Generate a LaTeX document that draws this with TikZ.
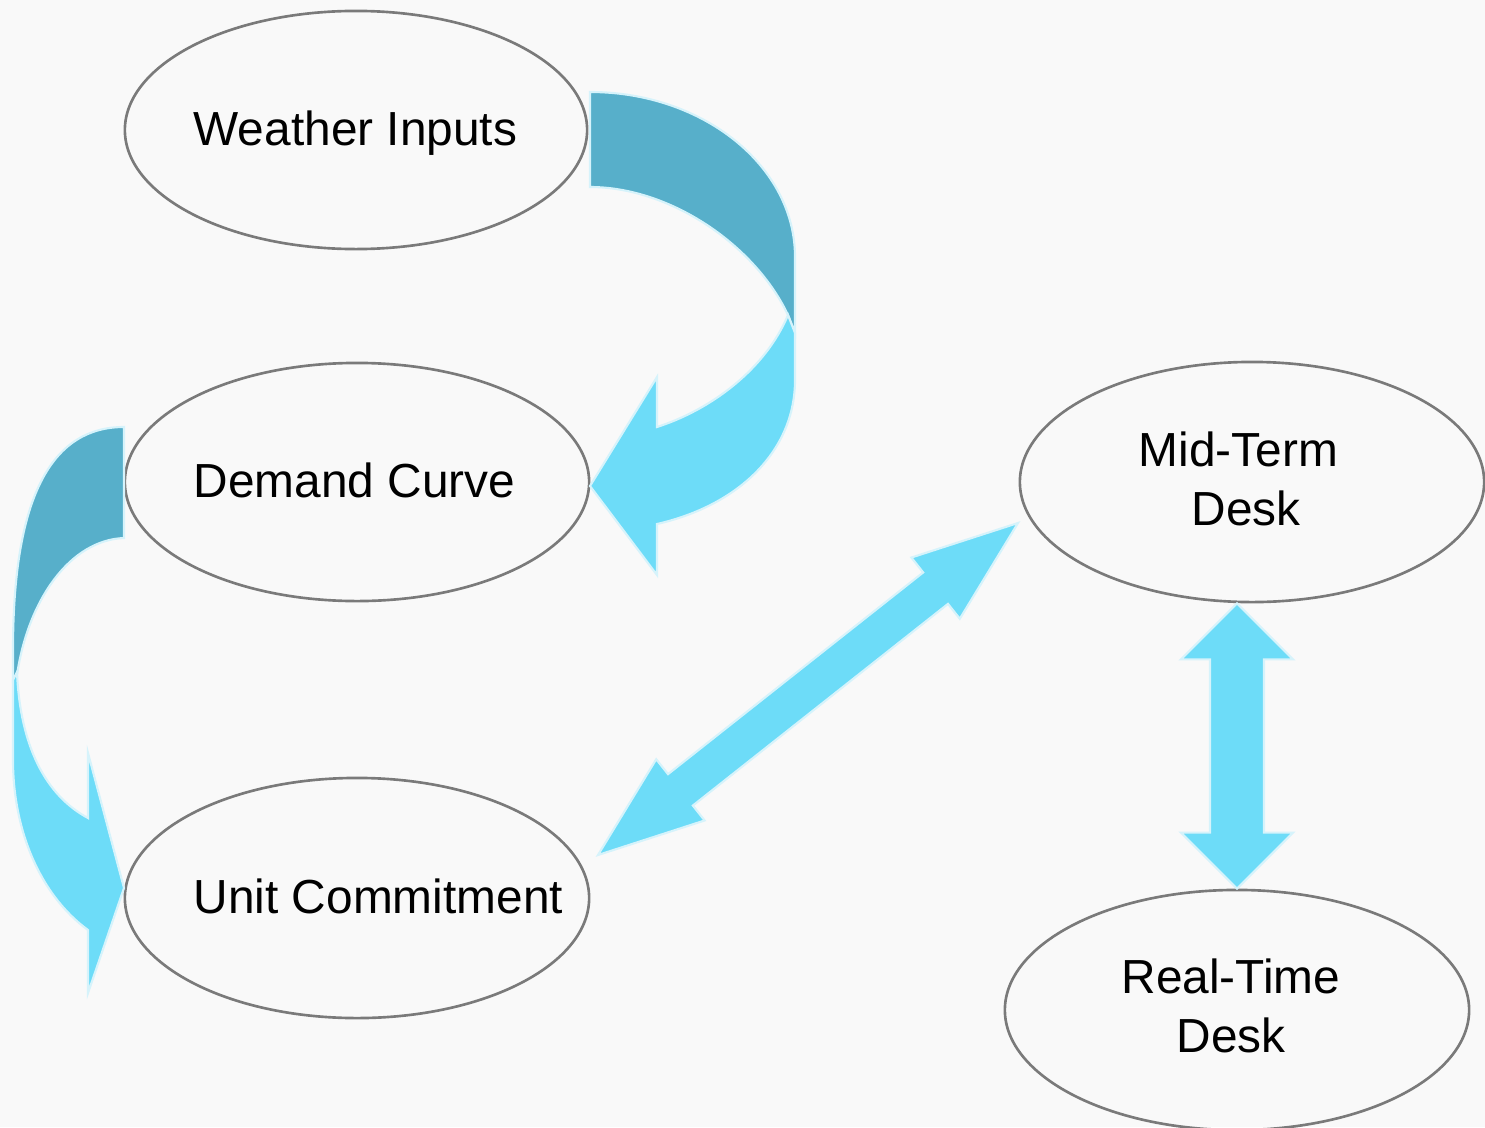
\documentclass[tikz,border=0pt]{standalone}
\usepackage{fontspec}
\setmainfont{Liberation Sans}
\usetikzlibrary{calc}
\usetikzlibrary{shapes.geometric}

\definecolor{bgcol}{HTML}{F9F9F9}
\definecolor{ringcol}{HTML}{7A7A7A}
\definecolor{darkflow}{HTML}{57AFCA}
\definecolor{lightflow}{HTML}{6DDCF8}
\definecolor{flowedge}{HTML}{D6F3FB}

% block arrow with a head at both ends: ends, head length, half head, half shaft
\newcommand{\dblflow}[5]{%
  \filldraw[flowlight] (#1)
    -- ($(#1)!#3!(#2)!#4!90:(#2)$)
    -- ($(#1)!#3!(#2)!#5!90:(#2)$)
    -- ($(#2)!#3!(#1)!#5!-90:(#1)$)
    -- ($(#2)!#3!(#1)!#4!-90:(#1)$)
    -- (#2)
    -- ($(#2)!#3!(#1)!#4!90:(#1)$)
    -- ($(#2)!#3!(#1)!#5!90:(#1)$)
    -- ($(#1)!#3!(#2)!#5!-90:(#2)$)
    -- ($(#1)!#3!(#2)!#4!-90:(#2)$)
    -- cycle;}

\begin{document}
\begin{tikzpicture}[x=0.01cm, y=-0.01cm,
    bubble/.style={ellipse, draw=ringcol, line width=0.75pt,
      minimum width=4.64cm, minimum height=2.4cm, inner sep=0pt},
    bubbletext/.style={inner sep=0pt, font=\fontsize{13.6}{16.8}\selectfont},
    flowdark/.style={fill=darkflow, draw=flowedge, line width=0.6pt},
    flowlight/.style={fill=lightflow, draw=flowedge, line width=0.6pt}]
  \fill[bgcol] (0,0) rectangle (1485,1127);
  \useasboundingbox (0,0) rectangle (1485,1127);

  \node[bubble, minimum width=4.62cm, minimum height=2.38cm] (wx) at (356,130) {};
  \node[bubble, minimum height=2.38cm] (dc) at (357,482) {};
  \node[bubble] (uc) at (357,898) {};
  \node[bubble] (mt) at (1252,482) {};
  \node[bubble] (rt) at (1237,1010) {};

  \node[bubbletext, anchor=base west] (wxt) at ([shift={(-163,15)}]wx.center) {Weather Inputs};
  \node[bubbletext, anchor=base west] (dct) at ([shift={(-164,15)}]dc.center) {Demand Curve};
  \node[bubbletext, anchor=base west] (uct) at ([shift={(-164,15)}]uc.center) {Unit Commitment};
  \node[bubbletext, align=center] (mtt) at ([shift={(-6,-3)}]mt.center) {Mid-Term\hspace*{0.15cm}\\Desk};
  \node[bubbletext, align=center] (rtt) at ([shift={(-6,-4)}]rt.center) {Real-Time\\Desk};

  % weather -> demand
  \filldraw[flowdark] (590,92) .. controls (703,92) and (795,166) .. (795,257)
    -- (795,333) -- (788,315) .. controls (755,245) and (670,187) .. (590,187) -- cycle;
  \filldraw[flowlight] (788,315) -- (795,333) -- (795,380)
    .. controls (795,450) and (740,505) .. (657,524)
    -- (657,575) -- (590,486) -- (657,377) -- (657,427)
    .. controls (710,410) and (765,370) .. (788,315) -- cycle;

  % demand -> unit commitment
  \filldraw[flowdark] (124,427) -- (124,538) .. controls (70,540) and (28,600) .. (17,675)
    -- (13,680) -- (13,650) .. controls (13,490) and (55,427) .. (124,427) -- cycle;
  \filldraw[flowlight] (17,672) -- (13,680) -- (13,760)
    .. controls (13,830) and (40,895) .. (88,930)
    -- (88,993) -- (124,888) -- (88,753) -- (88,818)
    .. controls (45,795) and (20,745) .. (17,672) -- cycle;

  % two way links
  \coordinate (ucTip) at (598,855);
  \coordinate (mtTip) at (1018,523);
  \coordinate (mtFoot) at (rt.north |- mt.south);
  \dblflow{ucTip}{mtTip}{1.05cm}{0.39cm}{0.2cm}
  \dblflow{mtFoot}{rt.north}{0.56cm}{0.56cm}{0.27cm}
\end{tikzpicture}
\end{document}
